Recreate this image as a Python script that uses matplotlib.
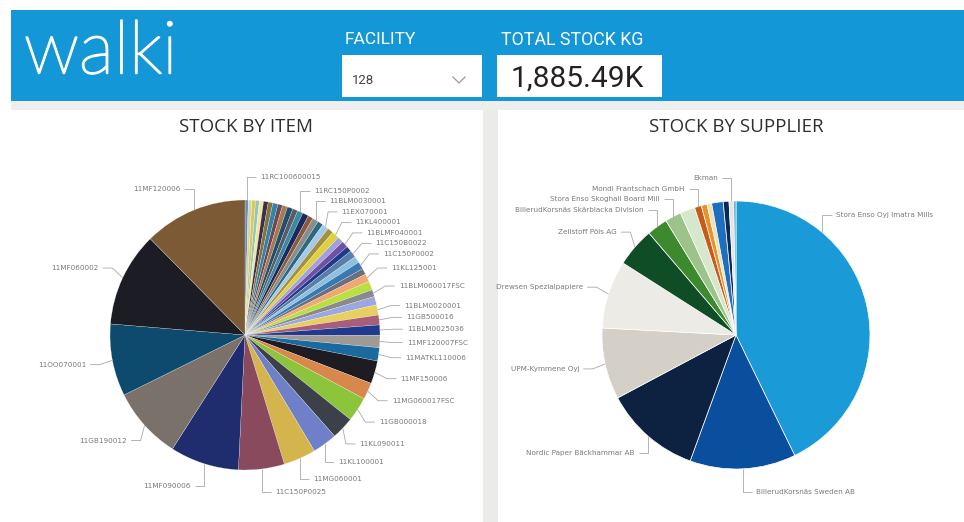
# Walki stock dashboard: header with slicer + card, two pie charts
import numpy as np
import matplotlib
matplotlib.use('Agg')
import matplotlib.pyplot as plt
import matplotlib.patheffects as pe
from matplotlib.patches import Rectangle
from matplotlib.lines import Line2D

# stock by item (relative share, clockwise from 12 o'clock)
item_names = ['11RC100600015', '', '', '', '', '', '', '', '', '', '', '',
              '11RC150P0002', '', '', '11BLM0030001', '', '11EX070001', '',
              '11KL400001', '', '11BLMF040001', '', '11C150B0022', '',
              '11C150P0002', '', '11KL125001', '', '11BLM060017FSC', '',
              '11BLM0020001', '11GB500016', '11BLM0025036', '11MF120007FSC',
              '11MATKL110006', '11MF150006', '11MG060017FSC', '11GB000018',
              '11KL090011', '11KL100001', '11MG060001', '11C150P0025',
              '11MF090006', '11GB190012', '11OO070001', '11MF060002',
              '11MF120006']
item_share = [1.4, 1.5, 1.6, 1.6, 1.8, 2.0, 2.0, 2.2, 2.0, 2.2, 2.4, 2.2,
              2.4, 2.6, 2.2, 2.6, 2.4, 2.8, 2.5, 3.2, 2.6, 2.8, 2.4, 3.0, 2.8,
              3.2, 2.6, 3.4, 3.8, 3.0, 3.6, 4.4, 4.2, 4.4, 5.3, 5.7, 9.8, 7.2,
              10.5, 9.7, 10.6, 13.9, 19.7, 29.6, 31.0, 31.0, 40.6, 44.4]
item_colors = ['#6d8fb5', '#c9d6c3', '#e3c94b', '#8fc7c2', '#f1e7a3', '#3b2f4a',
               '#8b6f3e', '#2f86a3', '#6b485a', '#a67a4f', '#1f4f6b', '#5a5a68',
               '#3a8aa0', '#1a2a60', '#8a5a3a', '#8c8c8c', '#2a6a80', '#a8c8e8',
               '#a09040', '#e0d040', '#a0a0e0', '#7050a0', '#1e3a8a', '#5a7ea8',
               '#8cc0e0', '#3a78b0', '#6a7080', '#f0a870', '#b8e040', '#8a8a8a',
               '#9aa8e0', '#e8d060', '#a85d78', '#203a90', '#a09a94', '#1a6aa0',
               '#1c1c22', '#d8884c', '#8cc43c', '#3c4048', '#7080c8', '#d4b44c',
               '#8a4a5e', '#1f2d6e', '#7a716a', '#0e4a6e', '#1c1c24', '#7d5a36']

# stock by supplier (K kg, clockwise from 12 o'clock)
supplier_names = ['Stora Enso Oyj Imatra Mills', 'BillerudKorsnäs Sweden AB',
                  'Nordic Paper Bäckhammar AB', 'UPM-Kymmene Oyj',
                  'Drewsen Spezialpapiere', 'Zellstoff Pöls AG',
                  'BillerudKorsnäs Skärblacka Division', 'Stora Enso Skoghall Board Mill',
                  '', 'Mondi Frantschach GmbH', '', '', '', '', 'Ekman', '']
supplier_stock = [806.6, 240.9, 220.0, 162.4, 154.5, 89.0, 47.1, 36.7, 34.0,
                  15.7, 13.1, 10.5, 26.2, 13.1, 10.5, 5.2]
supplier_colors = ['#1a9ad6', '#0a4f9e', '#0d2240', '#d4d0c8', '#ecebe6',
                   '#0f4d26', '#3d8a2e', '#9cc38a', '#d6e8cc', '#c85a1a',
                   '#e8922a', '#f0e0b0', '#1f6fc0', '#0a2a5a', '#e4e4e4', '#5aa0d8']

facility = '128'
total_stock = '1,885.49K'

W, H = 964, 522
fig = plt.figure(figsize=(9.64, 5.22), dpi=100)
fig.patch.set_facecolor('white')


def fx(x):
    return x / W


def fy(y):
    return 1 - y / H


def box(x0, y0, x1, y1, color, z=0):
    fig.add_artist(Rectangle((fx(x0), fy(y1)), fx(x1) - fx(x0), fy(y0) - fy(y1),
                             transform=fig.transFigure, facecolor=color,
                             edgecolor='none', zorder=z))


# header band
box(11, 10, 964, 101, '#1497d6')
box(11, 101, 964, 110, '#eeeeee')
box(483, 110, 498, 522, '#ebebe9')

fig.text(fx(24), fy(53), 'walki', color='white', fontsize=53, family='Lato',
         fontweight='light', va='center', ha='left',
         path_effects=[pe.withStroke(linewidth=1.4, foreground='white')])

fig.text(fx(345), fy(40), 'FACILITY', color='white', fontsize=12.5, va='center',
         family='Roboto')
fig.text(fx(501), fy(40), 'TOTAL STOCK KG', color='white', fontsize=12.8,
         va='center', family='Roboto')
box(342, 55, 482, 97, 'white', z=1)
box(497, 55, 662, 97, 'white', z=1)
fig.text(fx(352), fy(80), facility, color='#444444', fontsize=9.5, va='center',
         family='Roboto', zorder=2)
fig.add_artist(Line2D([fx(453), fx(459), fx(465)], [fy(77), fy(83), fy(77)],
                      transform=fig.transFigure, color='#9a9a9a', lw=0.9, zorder=2))
fig.text(fx(511), fy(79), total_stock, color='#222222', fontsize=21.5, va='center',
         family='Roboto', zorder=2)

fig.text(fx(246), fy(127), 'STOCK BY ITEM', color='#2e2e2e', fontsize=13.5,
         ha='center', va='center', family='Open Sans')
fig.text(fx(736), fy(127), 'STOCK BY SUPPLIER', color='#2e2e2e', fontsize=13.5,
         ha='center', va='center', family='Open Sans')


def draw_pie(values, colors, names, cx, cy, r, panel, edge_lw, anchor_frac):
    x0, y0, x1, y1 = panel
    ax = fig.add_axes([fx(x0), fy(y1), fx(x1) - fx(x0), fy(y0) - fy(y1)])
    wedges, _ = ax.pie(values, colors=colors, startangle=90, counterclock=False,
                       radius=1, wedgeprops=dict(edgecolor='white', linewidth=edge_lw))
    ax.set_xlim((x0 - cx) / r, (x1 - cx) / r)
    ax.set_ylim((cy - y1) / r, (cy - y0) / r)
    ax.set_aspect('auto')
    ax.axis('off')

    # collect labels, split by side
    sides = {1: [], -1: []}
    for i, (w, name) in enumerate(zip(wedges, names)):
        if not name:
            continue
        frac = anchor_frac.get(i, 0.5)
        ang = np.radians(w.theta2 - frac * (w.theta2 - w.theta1))
        side = 1 if np.cos(ang) >= 0 else -1
        sides[side].append([1.17 * np.sin(ang), ang, name])

    gap = 10.5 / r
    for side, labs in sides.items():
        labs.sort(key=lambda t: -t[0])
        for k in range(1, len(labs)):
            if labs[k][0] > labs[k - 1][0] - gap:
                labs[k][0] = labs[k - 1][0] - gap
        for y, ang, name in labs:
            axp, ayp = np.cos(ang), np.sin(ang)
            ex = side * max(np.sqrt(max(1.1 ** 2 - y ** 2, 0.0)), abs(axp))
            hx = ex + side * 0.07
            ax.plot([axp, ex, hx], [ayp, y, y], color='#a8a8a8', lw=0.6,
                    clip_on=False, solid_capstyle='butt')
            ax.text(hx + side * 0.03, y, name, fontsize=5.2, color='#7a7a7a',
                    ha='left' if side > 0 else 'right', va='center', clip_on=False)
    return ax


draw_pie(item_share, item_colors, item_names, 245, 335, 135,
         (12, 110, 482, 522), 0.15, {})
draw_pie(supplier_stock, supplier_colors, supplier_names, 736, 335, 134,
         (499, 110, 964, 522), 0.5, {0: 0.26})

fig.savefig('out.png', dpi=100, facecolor='white')
